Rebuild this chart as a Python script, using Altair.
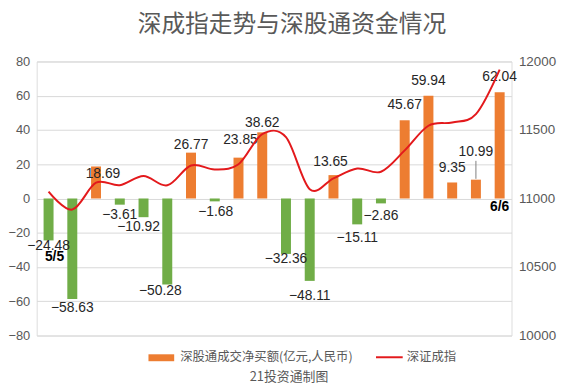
import altair as alt
import pandas as pd

# ---- data ----
days = list(range(1, 21))
net_buy = [-24.48, -58.63, 18.69, -3.61, -10.92, -50.28, 26.77, -1.68, 23.85, 38.62,
           -32.36, -48.11, 13.65, -15.11, -2.86, 45.67, 59.94, 9.35, 10.99, 62.04]
szci = [11050, 10919, 11115, 11097, 11164, 11096, 11241, 11212, 11250, 11470,
        11448, 11068, 11147, 11219, 11195, 11351, 11531, 11555, 11616, 11941]
date_marks = {1: "5/5", 20: "6/6"}

title_text = "深成指走势与深股通资金情况"
bar_name = "深股通成交净买额(亿元,人民币)"
line_name = "深证成指"
footer = "21投资通制图"

# ---- styles ----
ORANGE = "#ED7D31"
GREEN = "#70AD47"
RED = "#E3191C"
GRAY = "#595959"
GRID = "#D9D9D9"
CJK = "Noto Sans CJK SC"
NUM = "Liberation Sans"

# label nudges (dx, dy) in pixels; default by sign
NUDGE = {1: (0, 6), 2: (0, 9), 3: (7, 8), 5: (-5, 10), 6: (-7, 7), 7: (0, -8),
         8: (1, 11), 9: (2, -18), 10: (0, -9), 11: (0, 5), 12: (0, 15),
         13: (-3, -13), 14: (0, 14), 15: (0, 13), 19: (0, -28)}

df = pd.DataFrame({"day": days, "net": net_buy, "idx": szci})

W, H = 480, 277
x_enc = alt.X("day:O", axis=None,
              scale=alt.Scale(paddingInner=0.58, paddingOuter=0.29))
y_scale = alt.Scale(domain=[-80, 80], nice=False, zero=False)
left_axis = alt.Axis(orient="left", values=list(range(-80, 81, 20)),
                     grid=True, gridColor=GRID, domain=False, ticks=False,
                     labelColor=GRAY, labelFont=NUM, labelFontSize=13,
                     labelPadding=7, title=None)


def ly(field):
    return alt.Y(field, scale=y_scale, axis=left_axis, title=None)


base = alt.Chart(df)

bars = base.mark_bar().encode(
    x=x_enc,
    y=ly("net:Q"),
    color=alt.condition("datum.net > 0", alt.value(ORANGE), alt.value(GREEN)),
)

# group label nudges into layers
groups = {}
for d, v in zip(days, net_buy):
    off = NUDGE.get(d, (0, -15) if v > 0 else (0, 10))
    groups.setdefault(off, []).append(d)

label_layers = []
for (dx, dy), ds in groups.items():
    label_layers.append(
        base.transform_filter(alt.FieldOneOfPredicate(field="day", oneOf=ds))
        .mark_text(dx=dx, dy=dy, baseline="middle", align="center",
                   font=NUM, fontSize=14, color="#262626")
        .encode(x=x_enc, y=ly("net:Q"),
                text=alt.Text("net:Q", format=".2f"))
    )

# leader line for the 10.99 label
leader = (
    base.transform_filter(alt.datum.day == 19)
    .transform_calculate(y1="datum.net + 0.5", y2="datum.net + 11")
    .mark_rule(color="#7F7F7F", strokeWidth=1)
    .encode(x=x_enc, y=ly("y1:Q"), y2="y2:Q")
)

date_df = pd.DataFrame({"day": list(date_marks.keys()),
                        "txt": list(date_marks.values())})
date_first = (
    alt.Chart(date_df).transform_filter(alt.datum.day == 1)
    .transform_lookup(lookup="day", from_=alt.LookupData(df, "day", ["net"]))
    .mark_text(dx=6, dy=17, fontWeight="bold", font=NUM, fontSize=14, color="#000")
    .encode(x=x_enc, y=ly("net:Q"), text="txt:N")
)
date_last = (
    alt.Chart(date_df).transform_filter(alt.datum.day == 20)
    .transform_calculate(zero="0")
    .mark_text(dy=9, fontWeight="bold", font=NUM, fontSize=14, color="#000")
    .encode(x=x_enc, y=ly("zero:Q"), text="txt:N")
)

# manual legend and footer
one = pd.DataFrame({"a": [1]})
leg_rect = alt.Chart(one).mark_rect(color=ORANGE).encode(
    x=alt.value(113), x2=alt.value(139), y=alt.value(296), y2=alt.value(303))
leg_t1 = alt.Chart(one).mark_text(align="left", baseline="middle", font=CJK,
                                  fontSize=12.5, color=GRAY, text=bar_name).encode(
    x=alt.value(145), y=alt.value(299))
leg_rule = alt.Chart(one).mark_rule(color=RED, strokeWidth=2).encode(
    x=alt.value(343), x2=alt.value(370), y=alt.value(299))
leg_t2 = alt.Chart(one).mark_text(align="left", baseline="middle", font=CJK,
                                  fontSize=12.5, color=GRAY, text=line_name).encode(
    x=alt.value(374), y=alt.value(299))
foot = alt.Chart(one).mark_text(align="center", baseline="middle", font=CJK,
                                fontSize=13, color=GRAY, text=footer).encode(
    x=alt.value(255), y=alt.value(319))

left = alt.layer(bars, *label_layers, leader, date_first, date_last)

line = base.mark_line(color=RED, strokeWidth=2, interpolate="cardinal").encode(
    x=x_enc,
    y=alt.Y("idx:Q", scale=alt.Scale(domain=[10000, 12000], nice=False, zero=False),
            title=None,
            axis=alt.Axis(orient="right", values=list(range(10000, 12001, 500)),
                          grid=False, domain=False, ticks=False, format="d",
                          labelColor=GRAY, labelFont=NUM, labelFontSize=13.5,
                          labelPadding=7)),
)

chart = (
    alt.layer(left, line, leg_rect, leg_t1, leg_rule, leg_t2, foot)
    .resolve_scale(y="independent")
    .properties(
        width=W, height=H,
        title=alt.Title(title_text, font=CJK, fontSize=24, fontWeight="normal",
                        color=GRAY, anchor="middle", dx=18, offset=18),
        autosize=alt.AutoSizeParams(type="none"),
        padding={"left": 29, "top": 52, "right": 49, "bottom": 50},
    )
    .configure_view(stroke=None)
    .configure(background="white")
)

chart.save("out.html", embed_options={"renderer": "svg", "actions": False})
